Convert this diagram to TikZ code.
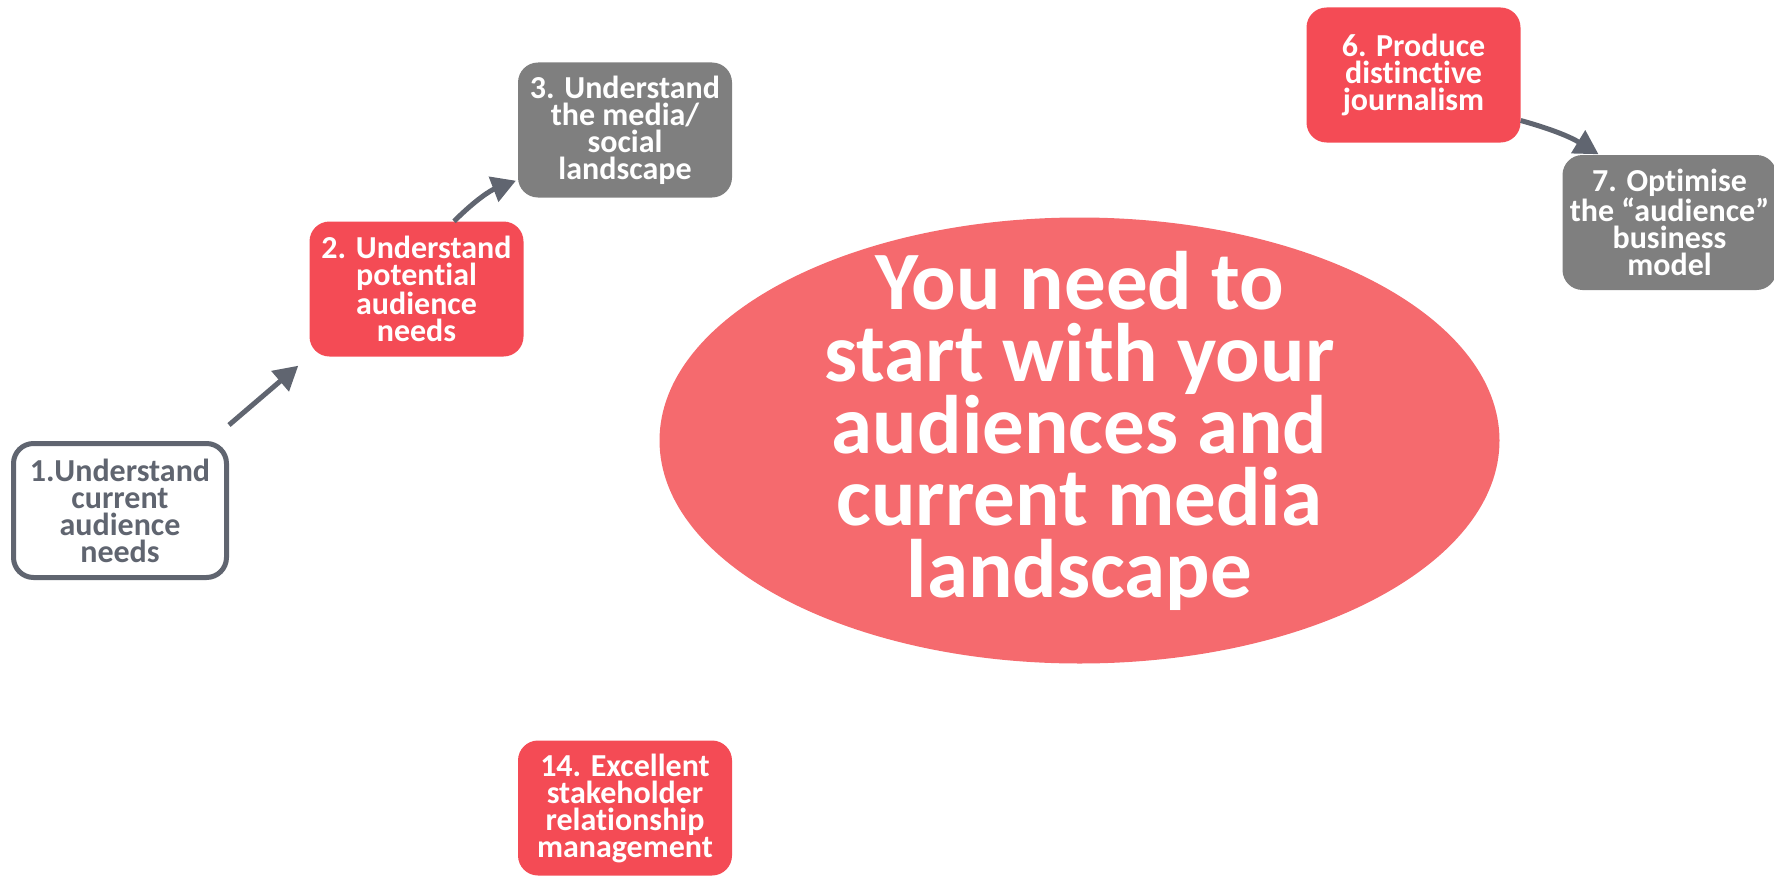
\documentclass[tikz,border=0pt]{standalone}
\usepackage{fontspec}
\setmainfont{Carlito}[Ligatures=NoCommon]
\usepackage{tikz}
\usetikzlibrary{arrows.meta}

\definecolor{stepred}{RGB}{244,75,85}
\definecolor{hubred}{RGB}{245,106,110}
\definecolor{stepgrey}{RGB}{127,127,127}
\definecolor{linkgrey}{RGB}{96,101,112}

\begin{document}
\begin{tikzpicture}[x=1pt,y=-1pt,
                    stepbox/.style={rectangle,rounded corners=20pt,minimum width=214pt,minimum height=135pt,
                                    inner sep=0pt,align=center,text=white,
                                    font=\fontsize{32}{27}\selectfont\bfseries},
                    redstep/.style={stepbox,fill=stepred},
                    greystep/.style={stepbox,fill=stepgrey},
                    openstep/.style={stepbox,minimum width=213pt,minimum height=134pt,draw=linkgrey,
                                     line width=5pt,fill=white,text=linkgrey},
                    hub/.style={inner sep=0pt,align=center,text=white,font=\fontsize{83}{72}\selectfont\bfseries},
                    link/.style={draw=linkgrey,line width=5pt,-{Triangle[length=24pt,width=26pt]}}
                ]
                    \useasboundingbox (0,0) rectangle (1774,875);

                    \fill[hubred] (1079.5,440.5) ellipse [x radius=420pt,y radius=223pt];
                    \node[hub] (hub) at (1079.5,431) {You need to\\start with your\\audiences and\\current media\\landscape};

                    \node[openstep] (s1) at (120,510.5) {1.Understand\\current\\audience\\needs};
                    \node[redstep] (s2) at (416.5,289) {2. Understand\\potential\\audience\\needs};
                    \node[greystep] (s3) at (625,130) {3. Understand\\the media/\\social\\landscape};
                    \node[redstep] (s6) at (1413.5,75) {6. Produce\\distinctive\\journalism};
                    \node[greystep] (s7) at (1669.5,222.5) {7. Optimise\\the \textquotedblleft audience\textquotedblright\\business\\model};
                    \node[redstep] (s14) at (625,808) {14. Excellent\\stakeholder\\relationship\\management};

                    \draw[link] ([yshift=16pt]s1.north east) -- ([xshift=-11pt,yshift=-9pt]s2.south west);
                    \draw[link,shorten >=2pt] (s2.61) to[bend left=12] (s3.205);
                    \draw[link,shorten >=1pt] (s6.337) to[bend left=8] (s7.136);

                \end{tikzpicture}
\end{document}
